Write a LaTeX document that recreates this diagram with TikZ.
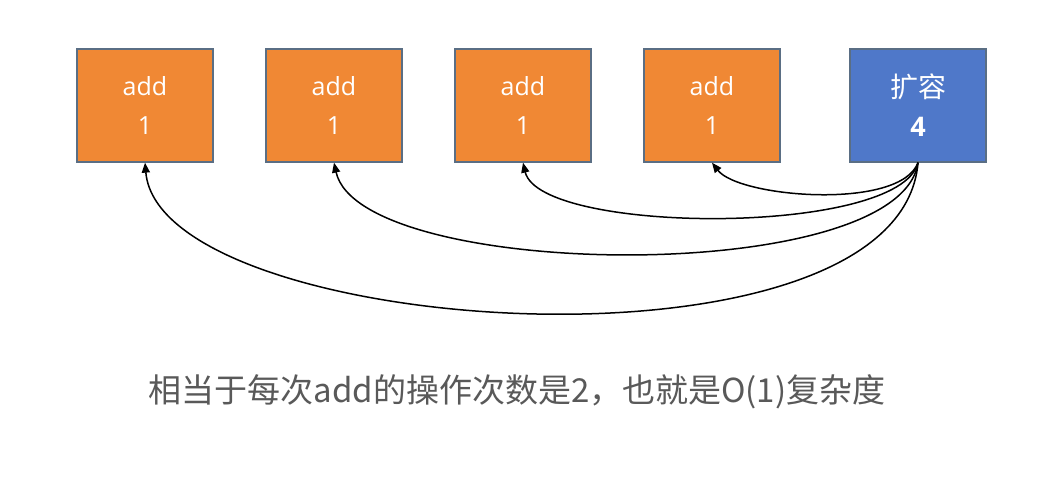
\documentclass[tikz,border=0pt]{standalone}
\usepackage{fontspec}
\setmainfont{Open Sans}
\newfontfamily\cjk{Noto Sans CJK SC}
\usetikzlibrary{arrows.meta}
\definecolor{boxorange}{HTML}{F08834}
\definecolor{boxblue}{HTML}{4F78C9}
\definecolor{boxedge}{HTML}{5A6E84}
\definecolor{capgray}{HTML}{595959}
\begin{document}
\begin{tikzpicture}[x=1pt,y=-1pt,
  opbox/.style={draw=boxedge,line width=1.3pt,fill=boxorange,minimum width=136pt,minimum height=113pt,inner sep=0pt,text=white,font=\fontsize{25}{39}\selectfont,align=center},
  growbox/.style={opbox,fill=boxblue},
  link/.style={line width=1.5pt,-{Triangle[length=10pt,width=8pt]}}]
\useasboundingbox[fill=white] (0,0) rectangle (1047,493);
\node[opbox] (a1) at (145,105.5) {add\\1};
\node[opbox] (a2) at (334,105.5) {add\\1};
\node[opbox] (a3) at (523,105.5) {add\\1};
\node[opbox] (a4) at (712,105.5) {add\\1};
\node[growbox] (g) at (918,105.5) {{\cjk\fontsize{28}{39}\selectfont 扩容}\\{\fontsize{27}{39}\selectfont\textbf{4}}};
\draw[link] (g.south) .. controls +(-18,48) and +(27,35) .. (a4.south);
\draw[link] (g.south) .. controls +(-18,74) and +(17,72) .. (a3.south);
\draw[link] (g.south) .. controls +(-18,125) and +(26,118) .. (a2.south);
\draw[link] (g.south) .. controls +(-18,225) and +(15,175) .. (a1.south);
\node[text=capgray,font=\cjk\fontsize{33}{40}\selectfont,inner sep=0pt] (cap) at (517,392) {相当于每次add的操作次数是2，也就是O(1)复杂度};
\end{tikzpicture}
\end{document}
